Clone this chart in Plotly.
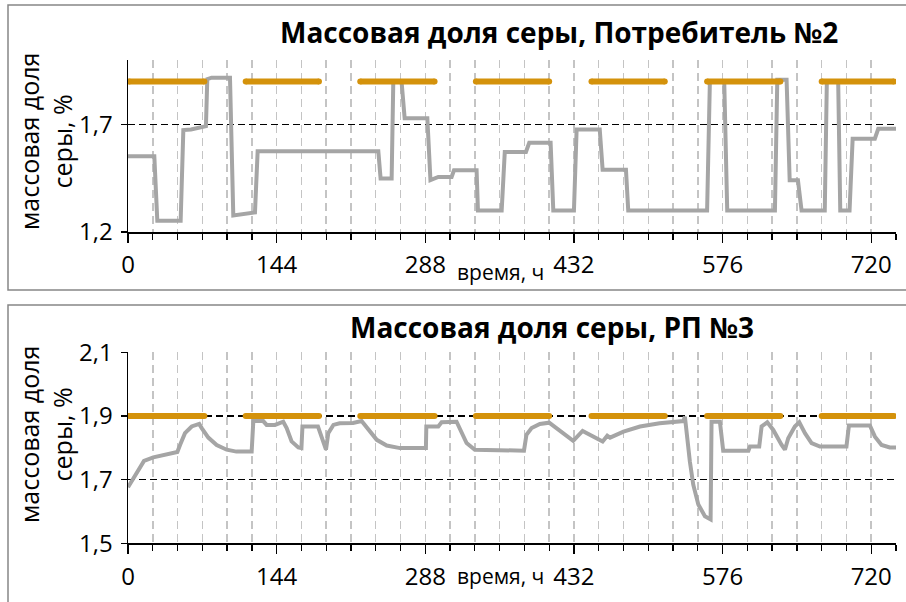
import plotly.graph_objects as go

# ---- data ----
hours_consumer = [0, 25.5, 28.4, 51, 53.6, 61, 75.5, 76.8, 81, 98.8, 102, 123, 125.6, 242.5, 244.7, 255.4, 257, 265, 268,
                  290, 293, 300.6, 313.5, 315.8, 337.7, 339, 362, 365, 385.5, 388.7, 409.4, 412, 432, 434.6, 457, 459.8,
                  482.4, 484.6, 561, 563.7, 577.6, 580.5, 626.7, 629, 638, 641, 649, 652.5, 675, 677, 688, 690, 699, 702,
                  723.5, 726.8, 744]
sulfur_consumer = [1.552, 1.552, 1.252, 1.252, 1.674, 1.677, 1.692, 1.911, 1.918, 1.918, 1.277, 1.291, 1.576, 1.576, 1.449,
                   1.449, 1.9, 1.9, 1.729, 1.729, 1.441, 1.456, 1.456, 1.487, 1.487, 1.30, 1.30, 1.572, 1.572, 1.615, 1.615,
                   1.30, 1.30, 1.677, 1.677, 1.49, 1.49, 1.30, 1.30, 1.9, 1.9, 1.30, 1.30, 1.908, 1.908, 1.441, 1.441, 1.30,
                   1.30, 1.9, 1.9, 1.30, 1.30, 1.634, 1.634, 1.68, 1.68]

hours_rp = [0, 8, 15.5, 24.5, 37.5, 47.8, 50.4, 55.2, 61.7, 69, 71.4, 77.8, 85.9, 95.6, 105, 119.8, 121.4, 131, 134.3, 142.4,
            150.4, 153.7, 158.5, 165, 168, 169, 184, 189, 191.8, 194, 199, 205, 218, 226.3, 234.4, 241, 250.6, 263.5, 288.6,
            289, 300.6, 303.8, 318.3, 323, 328, 336, 383.6, 386, 391, 399, 408, 431.3, 440.4, 459.8, 464.3, 467, 480, 496,
            515, 538, 539.5, 544.3, 547.6, 552.5, 558.9, 564.4, 565.3, 573.4, 576.6, 601, 602.5, 611.5, 613.8, 619.3, 625.1,
            633.2, 636.4, 639.6, 646, 650.3, 655.8, 662.2, 670.3, 696, 698.4, 718.7, 723.6, 730, 738, 744]
sulfur_rp = [1.676, 1.721, 1.759, 1.770, 1.778, 1.787, 1.809, 1.846, 1.867, 1.875, 1.862, 1.832, 1.809, 1.794, 1.788, 1.788,
             1.884, 1.884, 1.872, 1.872, 1.882, 1.862, 1.820, 1.801, 1.799, 1.867, 1.867, 1.82, 1.794, 1.846, 1.872, 1.877,
             1.878, 1.884, 1.851, 1.825, 1.807, 1.799, 1.799, 1.867, 1.867, 1.880, 1.882, 1.846, 1.815, 1.794, 1.791, 1.841,
             1.862, 1.875, 1.879, 1.822, 1.853, 1.820, 1.838, 1.832, 1.851, 1.867, 1.877, 1.884, 1.898, 1.757, 1.684, 1.622,
             1.585, 1.575, 1.882, 1.882, 1.791, 1.791, 1.804, 1.804, 1.867, 1.880, 1.856, 1.809, 1.794, 1.830, 1.867, 1.880,
             1.846, 1.815, 1.804, 1.804, 1.87, 1.87, 1.835, 1.809, 1.801, 1.801]

limit_starts = [1, 114, 225, 337, 449, 561, 672]
limit_ends = [74, 185, 297, 408, 520, 632, 742]
limit_value = 1.9

x_ticks = [0, 144, 288, 432, 576, 720]
x_ticktext = ["0", "144", "288", "432", "576", "720"]
y1_ticks = [1.2, 1.7]
y1_ticktext = ["1,2", "1,7"]
y2_ticks = [1.5, 1.7, 1.9, 2.1]
y2_ticktext = ["1,5", "1,7", "1,9", "2,1"]

title_top = "Массовая доля серы, Потребитель №2"
title_bottom = "Массовая доля серы, РП №3"
y_title = "массовая доля<br>серы, %"
x_title = "время, ч"

# ---- build ----
W, H = 906, 602
GRAY = "#A5A5A5"
ORANGE = "#D4920B"
FONT = "Open Sans"

lim_x, lim_y = [], []
for s, e in zip(limit_starts, limit_ends):
    lim_x += [s, e, None]
    lim_y += [limit_value, limit_value, None]

fig = go.Figure()
fig.add_trace(go.Scatter(x=hours_consumer, y=sulfur_consumer, mode="lines",
                         line=dict(color=GRAY, width=4), xaxis="x", yaxis="y"))
fig.add_trace(go.Scatter(x=lim_x, y=lim_y, mode="lines+markers", line=dict(color=ORANGE, width=6),
                         marker=dict(color=ORANGE, size=6), xaxis="x", yaxis="y"))
fig.add_trace(go.Scatter(x=hours_rp, y=sulfur_rp, mode="lines",
                         line=dict(color=GRAY, width=4, shape="linear"), xaxis="x2", yaxis="y2"))
fig.add_trace(go.Scatter(x=lim_x, y=lim_y, mode="lines+markers", line=dict(color=ORANGE, width=6),
                         marker=dict(color=ORANGE, size=6), xaxis="x2", yaxis="y2"))


def px(x):
    return x / W


def py(y):
    return 1 - y / H


xdom = [px(128), px(896)]
xcommon = dict(range=[0, 744], domain=xdom, tickvals=x_ticks, ticktext=x_ticktext,
               ticks="outside", ticklen=9, tickwidth=1.3, tickcolor="black", automargin=False,
               showline=True, linecolor="black", linewidth=1.5, ticklabelstandoff=2,
               showgrid=True, gridcolor="#C4C4C4", gridwidth=1.5, griddash="8px,5px",
               minor=dict(dtick=24, tick0=0, ticks="outside", ticklen=6, tickwidth=1.3, tickcolor="black",
                          showgrid=True, gridcolor="#C4C4C4", gridwidth=1.5, griddash="8px,5px"),
               tickfont=dict(family=FONT, size=24, color="black"), zeroline=False, fixedrange=True)
ycommon = dict(ticks="outside", ticklen=6, tickwidth=1.3, tickcolor="black", automargin=False,
               showline=True, linecolor="black", linewidth=1.5, ticklabelstandoff=3,
               showgrid=True, gridcolor="black", gridwidth=1.6, griddash="7px,4px",
               tickfont=dict(family=FONT, size=24, color="black"), zeroline=False, fixedrange=True)

fig.update_layout(
    template="none",
    width=W, height=H, margin=dict(l=0, r=0, t=0, b=0, pad=0), autosize=False,
    paper_bgcolor="white", plot_bgcolor="white", showlegend=False,
    xaxis=dict(anchor="y", **xcommon),
    xaxis2=dict(anchor="y2", matches="x", **xcommon),
    yaxis=dict(anchor="x", range=[1.2, 2.0], domain=[py(232), py(60)], tickvals=y1_ticks,
               ticktext=y1_ticktext, **ycommon),
    yaxis2=dict(anchor="x2", range=[1.5, 2.1], domain=[py(543.3), py(352.3)], tickvals=y2_ticks,
                ticktext=y2_ticktext, **ycommon),
)

# frames
frame = dict(type="rect", xref="paper", yref="paper", line=dict(color="#868686", width=1.5), layer="below")
fig.add_shape(x0=px(8), x1=1.02, y0=py(290), y1=py(5), **frame)
fig.add_shape(x0=px(8), x1=1.02, y0=-0.02, y1=py(305), **frame)

ann = dict(xref="paper", yref="paper", showarrow=False, xanchor="center", yanchor="middle")
fig.add_annotation(x=px(559), y=py(32), text="<b>" + title_top + "</b>",
                   font=dict(family=FONT, size=28, color="black"), **ann)
fig.add_annotation(x=px(552), y=py(327), text="<b>" + title_bottom + "</b>",
                   font=dict(family=FONT, size=28, color="black"), **ann)
for yc in (142, 435):
    fig.add_annotation(x=px(45), y=py(yc), text=y_title, textangle=-90,
                       font=dict(family=FONT, size=25, color="black"), **ann)
for yc in (272, 576):
    fig.add_annotation(x=px(500), y=py(yc), text=x_title,
                       font=dict(family=FONT, size=21, color="black"), **ann)

fig.write_html("out.html", config=dict(displayModeBar=False, staticPlot=True),
               post_script="document.body.style.margin='0';document.body.style.overflow='hidden';")
